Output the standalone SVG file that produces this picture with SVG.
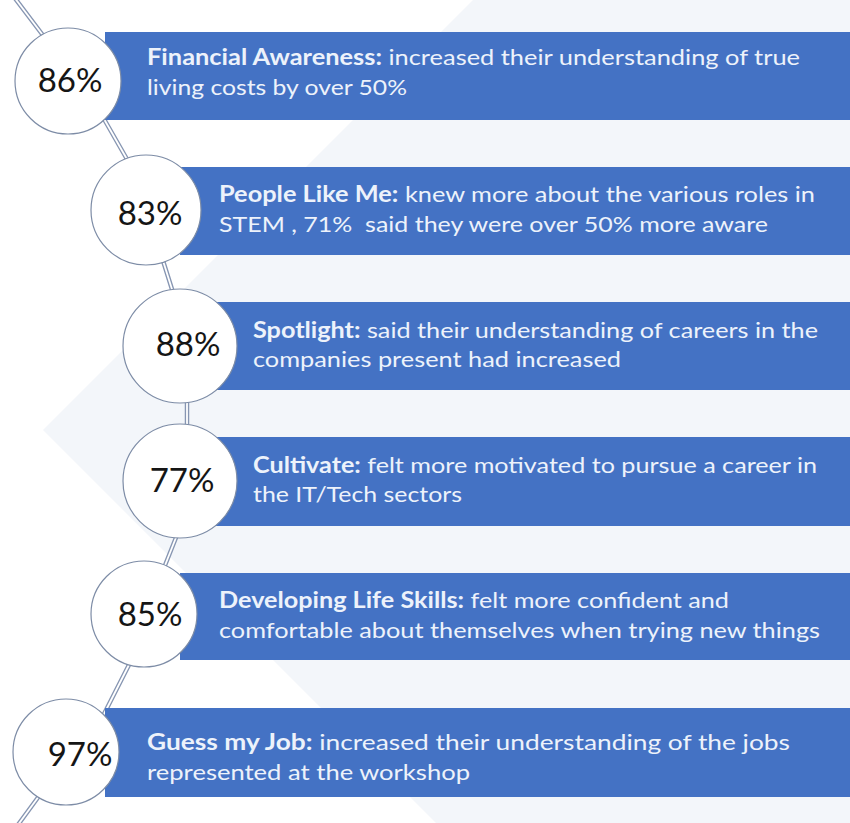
<svg xmlns="http://www.w3.org/2000/svg" width="850" height="823" viewBox="0 0 850 823">
<style>
.bar{fill:#4472c4}
.circ{fill:#ffffff;stroke:#7d8ca6;stroke-width:1.2}
.pct{font-family:Lato,"Liberation Sans",sans-serif;font-size:33px;fill:#151515;text-anchor:middle}
.txt{font-family:Lato,"Liberation Sans",sans-serif;font-size:22px;fill:#edf2fb}
.b{font-weight:bold}
.pipeO{stroke:#8796b2;stroke-width:4.5;fill:none}
.pipeI{stroke:#ffffff;stroke-width:1.8;fill:none}
</style>
<rect x="0" y="0" width="850" height="823" fill="#ffffff"/>
<polygon points="473,0 850,0 850,823 436,823 43,430" fill="#f3f6fa"/>
<g id="connectors">
<path class="pipeO" d="M14,-3 L45,38 M100,112 L132,168 M159,248 L176,302 M187,395 L187,432 M179,530 L160,578 M134,655 L104,714 M42,792 L12,833"/>
<path class="pipeI" d="M14,-3 L45,38 M100,112 L132,168 M159,248 L176,302 M187,395 L187,432 M179,530 L160,578 M134,655 L104,714 M42,792 L12,833"/>
</g>
<g id="node1">
<rect class="bar" x="105" y="32" width="745" height="88"/>
<circle class="circ" cx="68" cy="81" r="53"/>
<text class="pct" x="70" y="92">86%</text>
<text class="txt" x="147" y="65" textLength="653" lengthAdjust="spacingAndGlyphs"><tspan class="b">Financial Awareness:</tspan> increased their understanding of true</text>
<text class="txt" x="147" y="95" textLength="260" lengthAdjust="spacingAndGlyphs">living costs by over 50%</text>
</g>
<g id="node2">
<rect class="bar" x="180" y="167" width="670" height="88"/>
<circle class="circ" cx="146" cy="210" r="55"/>
<text class="pct" x="150" y="225">83%</text>
<text class="txt" x="219" y="202" textLength="596" lengthAdjust="spacingAndGlyphs"><tspan class="b">People Like Me:</tspan> knew more about the various roles in</text>
<text class="txt" x="219" y="232" textLength="549" lengthAdjust="spacingAndGlyphs" xml:space="preserve">STEM , 71%  said they were over 50% more aware</text>
</g>
<g id="node3">
<rect class="bar" x="215" y="302" width="635" height="88"/>
<circle class="circ" cx="180" cy="346" r="57"/>
<text class="pct" x="188" y="356">88%</text>
<text class="txt" x="253" y="338" textLength="565" lengthAdjust="spacingAndGlyphs"><tspan class="b">Spotlight:</tspan> said their understanding of careers in the</text>
<text class="txt" x="253" y="367" textLength="368" lengthAdjust="spacingAndGlyphs">companies present had increased</text>
</g>
<g id="node4">
<rect class="bar" x="215" y="437" width="635" height="89"/>
<circle class="circ" cx="180" cy="481" r="57"/>
<text class="pct" x="182" y="492">77%</text>
<text class="txt" x="253" y="473" textLength="564" lengthAdjust="spacingAndGlyphs"><tspan class="b">Cultivate:</tspan> felt more motivated to pursue a career in</text>
<text class="txt" x="253" y="502" textLength="209" lengthAdjust="spacingAndGlyphs">the IT/Tech sectors</text>
</g>
<g id="node5">
<rect class="bar" x="180" y="573" width="670" height="87"/>
<circle class="circ" cx="144" cy="614" r="53"/>
<text class="pct" x="150" y="626">85%</text>
<text class="txt" x="219" y="608" textLength="510" lengthAdjust="spacingAndGlyphs"><tspan class="b">Developing Life Skills:</tspan> felt more confident and</text>
<text class="txt" x="219" y="638" textLength="601" lengthAdjust="spacingAndGlyphs">comfortable about themselves when trying new things</text>
</g>
<g id="node6">
<rect class="bar" x="105" y="708" width="745" height="89"/>
<circle class="circ" cx="66" cy="752" r="53"/>
<text class="pct" x="80" y="766">97%</text>
<text class="txt" x="147" y="750" textLength="643" lengthAdjust="spacingAndGlyphs"><tspan class="b">Guess my Job:</tspan> increased their understanding of the jobs</text>
<text class="txt" x="147" y="780" textLength="323" lengthAdjust="spacingAndGlyphs">represented at the workshop</text>
</g>
</svg>
